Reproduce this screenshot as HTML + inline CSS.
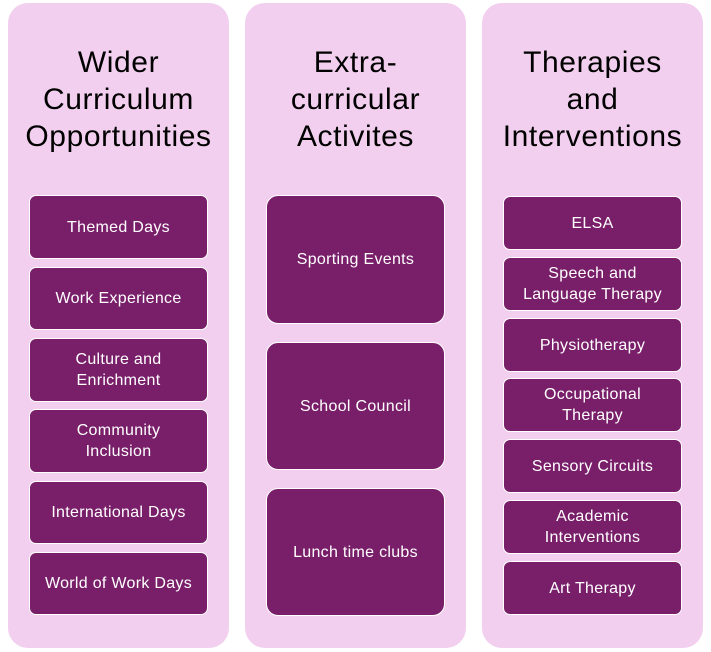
<!DOCTYPE html>
<html><head><meta charset="utf-8"><style>
*{margin:0;padding:0;box-sizing:border-box}
body{width:711px;height:652px;background:#fff;position:relative;overflow:hidden;font-family:"Liberation Sans",sans-serif}
.col{position:absolute;top:3px;width:221px;height:645px;background:#f2cfee;border-radius:20px}
.t{position:absolute;left:-10px;width:241px;text-align:center;font-size:30px;letter-spacing:0.6px;line-height:37px;color:#000;top:41px}
.b{position:absolute;background:#791f6a;border:1.5px solid #fff;border-radius:7px;color:#fff;font-size:16px;letter-spacing:0.3px;line-height:21px;text-align:center;display:flex;align-items:center;justify-content:center;white-space:nowrap}
</style></head><body>
<div class="col" style="left:8px"><div class="t">Wider<br>Curriculum<br>Opportunities</div></div>
<div class="col" style="left:245px"><div class="t">Extra-<br>curricular<br>Activites</div></div>
<div class="col" style="left:482px"><div class="t">Therapies<br>and<br>Interventions</div></div>

<div class="b" style="left:29px;top:195px;width:179px;height:64px">Themed Days</div>
<div class="b" style="left:29px;top:267px;width:179px;height:63px">Work Experience</div>
<div class="b" style="left:29px;top:338px;width:179px;height:64px">Culture and<br>Enrichment</div>
<div class="b" style="left:29px;top:409px;width:179px;height:64px">Community<br>Inclusion</div>
<div class="b" style="left:29px;top:481px;width:179px;height:63px">International Days</div>
<div class="b" style="left:29px;top:552px;width:179px;height:63px">World of Work Days</div>

<div class="b" style="left:266px;top:195px;width:179px;height:129px;border-radius:12px">Sporting Events</div>
<div class="b" style="left:266px;top:342px;width:179px;height:128px;border-radius:12px">School Council</div>
<div class="b" style="left:266px;top:488px;width:179px;height:128px;border-radius:12px">Lunch time clubs</div>

<div class="b" style="left:503px;top:196px;width:179px;height:54px">ELSA</div>
<div class="b" style="left:503px;top:257px;width:179px;height:54px">Speech and<br>Language Therapy</div>
<div class="b" style="left:503px;top:318px;width:179px;height:54px">Physiotherapy</div>
<div class="b" style="left:503px;top:378px;width:179px;height:54px">Occupational<br>Therapy</div>
<div class="b" style="left:503px;top:439px;width:179px;height:54px">Sensory Circuits</div>
<div class="b" style="left:503px;top:500px;width:179px;height:54px">Academic<br>Interventions</div>
<div class="b" style="left:503px;top:561px;width:179px;height:54px">Art Therapy</div>
</body></html>
